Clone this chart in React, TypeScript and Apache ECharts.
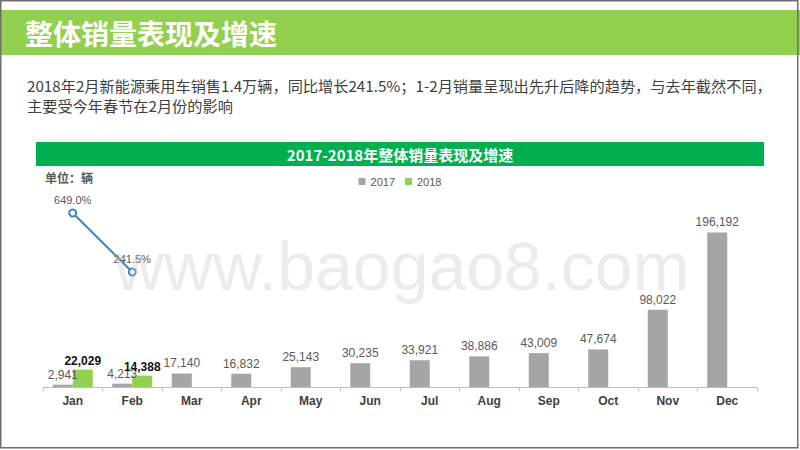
import React, { useEffect, useRef } from "react";
import * as echarts from "echarts";

const categories = ["Jan", "Feb", "Mar", "Apr", "May", "Jun", "Jul", "Aug", "Sep", "Oct", "Nov", "Dec"];
const sales2017 = [2941, 4213, 17140, 16832, 25143, 30235, 33921, 38886, 43009, 47674, 98022, 196192];
const sales2018: (number | null)[] = [22029, 14388, null, null, null, null, null, null, null, null, null, null];
const growth2018: (number | null)[] = [649.0, 241.5, null, null, null, null, null, null, null, null, null, null];

const pageTitle = "整体销量表现及增速";
const subLine1 = "2018年2月新能源乘用车销售1.4万辆，同比增长241.5%；1-2月销量呈现出先升后降的趋势，与去年截然不同，";
const subLine2 = "主要受今年春节在2月份的影响";
const chartTitle = "2017-2018年整体销量表现及增速";
const unitText = "单位：辆";
const watermark = "www.baogao8.com";

const CJK = '"Noto Sans CJK SC", "Noto Sans", sans-serif';
const NUM = '"Liberation Sans", Arial, sans-serif';

const fmt = (v: number) => v.toLocaleString("en-US");

export default function App() {
  const ref = useRef<HTMLDivElement>(null);
  useEffect(() => {
    if (!ref.current) return;
    const chart = echarts.init(ref.current, null, { renderer: "svg" });
    chart.setOption({
      animation: false,
      backgroundColor: "#ffffff",
      legend: {
        data: ["2017", "2018"],
        top: 171,
        left: "center",
        itemWidth: 7,
        itemHeight: 7,
        itemGap: 10,
        icon: "rect",
        textStyle: { fontSize: 11, color: "#595959", fontFamily: NUM },
      },
      grid: { left: 43, right: 43, top: 190, bottom: 63 },
      xAxis: {
        type: "category",
        data: categories,
        axisLine: { lineStyle: { color: "#BFBFBF", width: 1 } },
        axisTick: { show: true, length: 4, lineStyle: { color: "#BFBFBF" } },
        axisLabel: { fontSize: 12, fontWeight: "bold", color: "#404040", fontFamily: NUM, margin: 8 },
      },
      yAxis: [
        { type: "value", min: 0, max: 250000, show: false },
        { type: "value", min: -553, max: 808, show: false },
      ],
      series: [
        {
          name: "2017",
          type: "bar",
          data: sales2017,
          barWidth: 20,
          barGap: "0%",
          itemStyle: { color: "#A5A5A5" },
          label: {
            show: true,
            position: "top",
            distance: 4,
            fontSize: 12,
            color: "#595959",
            fontFamily: NUM,
            formatter: (p: any) => fmt(p.value),
          },
        },
        {
          name: "2018",
          type: "bar",
          data: sales2018,
          barWidth: 20,
          barGap: "0%",
          itemStyle: { color: "#92D050" },
          label: {
            show: true,
            position: "top",
            distance: 3,
            fontSize: 12,
            fontWeight: "bold",
            color: "#111111",
            fontFamily: NUM,
            formatter: (p: any) => (p.value == null ? "" : fmt(p.value)),
          },
        },
        {
          name: "增速",
          type: "line",
          yAxisIndex: 1,
          data: growth2018,
          symbol: "emptyCircle",
          symbolSize: 7,
          lineStyle: { color: "#3A85C8", width: 2 },
          itemStyle: { color: "#3A85C8", borderWidth: 1.5 },
          label: {
            show: true,
            position: "top",
            distance: 3,
            fontSize: 11,
            color: "#595959",
            fontFamily: NUM,
            formatter: (p: any) => (p.value == null ? "" : Number(p.value).toFixed(1) + "%"),
          },
          z: 5,
        },
      ],
      graphic: [
        {
          type: "rect",
          shape: { x: 0, y: 10, width: 800, height: 45 },
          style: { fill: "#92D050" },
          z: 1,
        },
        {
          type: "text",
          x: 25,
          y: 33,
          style: {
            text: pageTitle,
            fill: "#ffffff",
            font: `bold 28px ${CJK}`,
            verticalAlign: "middle",
          },
          z: 2,
        },
        {
          type: "text",
          x: 27,
          y: 85,
          style: { text: subLine1, fill: "#404040", font: `15.2px ${CJK}`, verticalAlign: "middle" },
          z: 2,
        },
        {
          type: "text",
          x: 27,
          y: 105,
          style: { text: subLine2, fill: "#404040", font: `15.2px ${CJK}`, verticalAlign: "middle" },
          z: 2,
        },
        {
          type: "rect",
          shape: { x: 36, y: 142, width: 728, height: 24 },
          style: { fill: "#00B050" },
          z: 1,
        },
        {
          type: "text",
          x: 400,
          y: 154,
          style: {
            text: chartTitle,
            fill: "#ffffff",
            font: `bold 15px ${CJK}`,
            align: "center",
            verticalAlign: "middle",
          },
          z: 2,
        },
        {
          type: "text",
          x: 45,
          y: 177,
          style: { text: unitText, fill: "#595959", font: `bold 12px ${CJK}`, verticalAlign: "middle" },
          z: 2,
        },
        {
          type: "text",
          x: 402,
          y: 266,
          style: {
            text: watermark,
            fill: "rgba(200,200,200,0.35)",
            font: `68px ${NUM}`,
            align: "center",
            verticalAlign: "middle",
          },
          z: 100,
        },
        {
          type: "rect",
          shape: { x: 0.75, y: 0.75, width: 797, height: 447 },
          style: { fill: "none", stroke: "#6f6f6f", lineWidth: 1.5 },
          z: 100,
        },
      ],
    });
    return () => chart.dispose();
  }, []);
  return (
    <div
      ref={ref}
      style={{ position: "absolute", left: 0, top: 0, width: 800, height: 450 }}
    />
  );
}
